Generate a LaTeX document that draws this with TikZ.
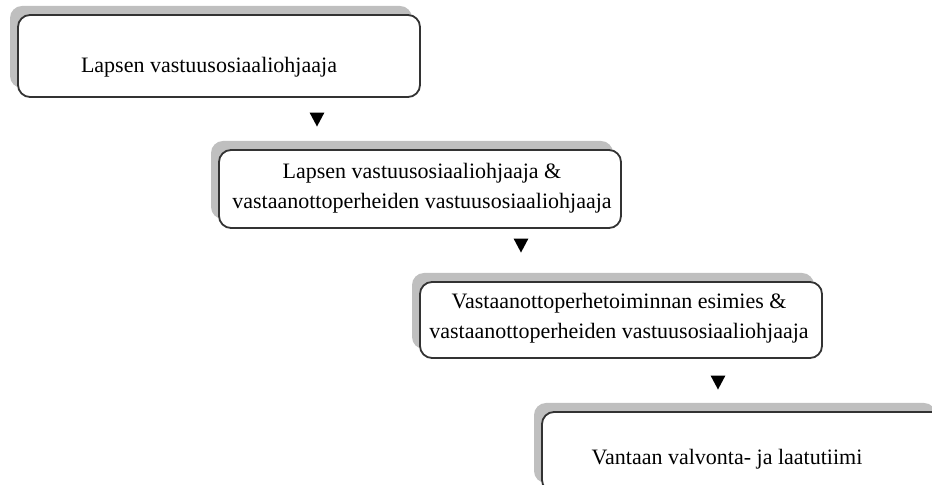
\documentclass[tikz,border=0pt]{standalone}
\usepackage{fontspec}
\setmainfont{Liberation Serif}
\usetikzlibrary{shadows, shapes.geometric}
\definecolor{shadowgray}{HTML}{BFBFBF}
\definecolor{boxline}{HTML}{333333}
\tikzset{%
	stagebox/.style={
		rectangle,
		rounded corners=6pt,
		draw=boxline,
		line width=0.9pt,
		fill=white,
		minimum width=201pt,
		inner sep=0pt,
		drop shadow={shadow xshift=-4pt, shadow yshift=4.5pt, fill=shadowgray, opacity=1}
	},
	stagetext/.style={
		inner sep=0pt,
		align=center,
		font=\fontsize{11}{15}\selectfont
	},
	downmark/.style={
		isosceles triangle,
		isosceles triangle apex angle=56,
		shape border rotate=-90,
		fill=black,
		inner sep=0pt,
		minimum height=7pt
	},
}

\begin{document}
\begin{tikzpicture}[x=0.5pt, y=-0.5pt]
			\useasboundingbox (0,0) rectangle (932,485);
			\clip (0,0) rectangle (932,485);
			
			\node[stagebox, minimum height=41pt] (B1) at (219,56) {};
			\node[stagebox, minimum height=39pt] (B2) at (420,189) {};
			\node[stagebox, minimum height=38pt] (B3) at (621,320) {};
			\node[stagebox, minimum height=40pt] (B4) at (743,452) {};
			
			\node[stagetext, anchor=base] (T1) at (209,73) {Lapsen vastuusosiaaliohjaaja};
			\node[stagetext] (T2) at (422,188) {Lapsen vastuusosiaaliohjaaja \&\\vastaanottoperheiden vastuusosiaaliohjaaja};
			\node[stagetext] (T3) at (619,318) {Vastaanottoperhetoiminnan esimies \&\\vastaanottoperheiden vastuusosiaaliohjaaja};
			\node[stagetext, anchor=base] (T4) at (727,465) {Vantaan valvonta- ja laatutiimi};
			
			\node[downmark] (A1) at (317,117) {};
			\node[downmark] (A2) at (521,243) {};
			\node[downmark] (A3) at (718,380) {};
			
		\end{tikzpicture}
\end{document}
